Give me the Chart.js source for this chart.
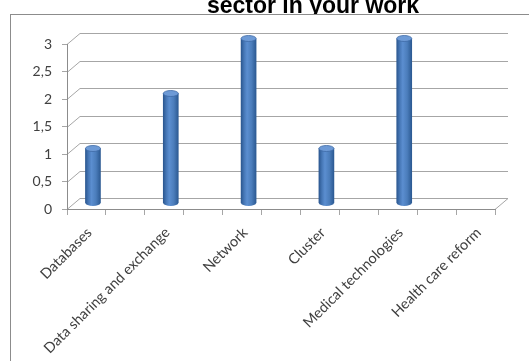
<!DOCTYPE html>
<html><head><meta charset="utf-8">
<script src="https://cdn.jsdelivr.net/npm/chart.js@4"></script>
<style>html,body{margin:0;padding:0;background:#fff;overflow:hidden}#wrap{position:relative;width:529px;height:361px}</style>
</head><body><div id="wrap"><canvas id="c" width="529" height="361"></canvas></div>
<script>
const titleText = 'sector in your work';
const categories = ['Databases', 'Data sharing and exchange', 'Network', 'Cluster', 'Medical technologies', 'Health care reform'];
const values = [1, 2, 3, 1, 3, 0];
const yTickLabels = ['0', '0,5', '1', '1,5', '2', '2,5', '3'];

// The source axis has a tick slot between every labelled category (labels of those slots were skipped)
const slotLabels = [], slotValues = [];
categories.forEach((c, i) => {
  if (i > 0) { slotLabels.push(''); slotValues.push(null); }
  slotLabels.push(c); slotValues.push(values[i]);
});

const DX = 13, DY = 11;          // depth of the 3-D walls
const BX = 6.5, BY = 5.5;        // bars sit half way into the depth
const BAR_W = 15;
const GRID = '#a6a6a6', AXIS = '#8c8c8c', LABEL = '#404040';

function bodyGradient(ctx, cx, w) {
  const g = ctx.createLinearGradient(cx - w / 2, 0, cx + w / 2, 0);
  g.addColorStop(0, '#2c5891');
  g.addColorStop(0.2, '#4677b6');
  g.addColorStop(0.4, '#5b8ed0');
  g.addColorStop(0.7, '#4b7dbb');
  g.addColorStop(1, '#2c5a93');
  return g;
}

const deco = {
  id: 'deco',
  beforeDraw(chart) {
    const { ctx, chartArea: a, scales: { y } } = chart;
    ctx.save();
    ctx.fillStyle = '#fff';
    ctx.fillRect(0, 0, chart.width, chart.height);
    ctx.font = 'bold 23px "Liberation Sans", Arial, sans-serif';
    ctx.fillStyle = '#000';
    ctx.textAlign = 'center';
    ctx.textBaseline = 'alphabetic';
    ctx.fillText(titleText, 313, 13);
    ctx.fillStyle = '#fff';
    ctx.fillRect(11, 15, 600, 400);
    ctx.strokeStyle = AXIS; ctx.lineWidth = 1;
    ctx.strokeRect(10.5, 14.5, 600, 400);
    ctx.strokeStyle = GRID;
    y.ticks.forEach(t => {
      const py = Math.round(y.getPixelForValue(t.value)) + 0.5;
      ctx.beginPath();
      ctx.moveTo(a.left, py);
      ctx.lineTo(a.left + DX, py - DY);
      ctx.lineTo(a.right + DX, py - DY);
      ctx.stroke();
    });
    const p0 = Math.round(y.getPixelForValue(0)) + 0.5;
    ctx.beginPath();
    ctx.moveTo(a.right, p0);
    ctx.lineTo(a.right + DX, p0 - DY);
    ctx.stroke();
    ctx.restore();
  },
  beforeDatasetsDraw(chart) {
    chart.ctx.save();
    chart.ctx.translate(BX, -BY);
  },
  afterDatasetsDraw(chart) {
    const ctx = chart.ctx;
    const meta = chart.getDatasetMeta(0);
    meta.data.forEach((bar, i) => {
      const v = slotValues[i];
      if (v === null || !(v > 0)) return;
      const w = bar.width, cx = bar.x, top = bar.y, base = bar.base;
      const ry = 3;
      ctx.beginPath();
      ctx.ellipse(cx, base, w / 2, ry, 0, 0, Math.PI);
      ctx.fillStyle = bodyGradient(ctx, cx, w);
      ctx.fill();
      ctx.beginPath();
      ctx.ellipse(cx, top, w / 2, ry, 0, 0, Math.PI * 2);
      ctx.fillStyle = '#6d9ad6';
      ctx.fill();
      ctx.strokeStyle = '#3d6aa6';
      ctx.lineWidth = 0.8;
      ctx.stroke();
    });
    ctx.restore();
  }
};

new Chart(document.getElementById('c'), {
  type: 'bar',
  data: {
    labels: slotLabels,
    datasets: [{
      data: slotValues,
      barThickness: BAR_W,
      borderWidth: 0,
      backgroundColor: (c) => {
        const v = slotValues[c.dataIndex];
        if (!(v > 0)) return 'rgba(0,0,0,0)';
        const xs = c.chart.scales.x;
        if (!xs || !c.chart.chartArea) return '#4f81bd';
        return bodyGradient(c.chart.ctx, xs.getPixelForValue(c.dataIndex), BAR_W);
      }
    }]
  },
  options: {
    responsive: false,
    animation: false,
    layout: { padding: { left: 10, right: 34, top: 44, bottom: 0 } },
    plugins: { legend: { display: false }, title: { display: false }, tooltip: { enabled: false } },
    scales: {
      x: {
        offset: true,
        afterFit(s) { s.height = 152; },
        grid: { display: true, offset: true, drawOnChartArea: false, drawTicks: true, tickLength: 6, color: GRID },
        border: { display: true, color: AXIS },
        ticks: {
          autoSkip: false, minRotation: 45, maxRotation: 45, padding: 9, labelOffset: 3,
          color: LABEL, font: { family: 'Lato', size: 14.5 }
        }
      },
      y: {
        min: 0, max: 3,
        afterFit(s) { s.width = 57; },
        grid: { display: true, drawOnChartArea: false, drawTicks: true, tickLength: 5, color: GRID },
        border: { display: true, color: AXIS },
        ticks: {
          stepSize: 0.5, padding: 10, color: LABEL,
          font: { family: 'Lato', size: 14 },
          callback: (v, i) => yTickLabels[i]
        }
      }
    }
  },
  plugins: [deco]
});
</script>
</body></html>
